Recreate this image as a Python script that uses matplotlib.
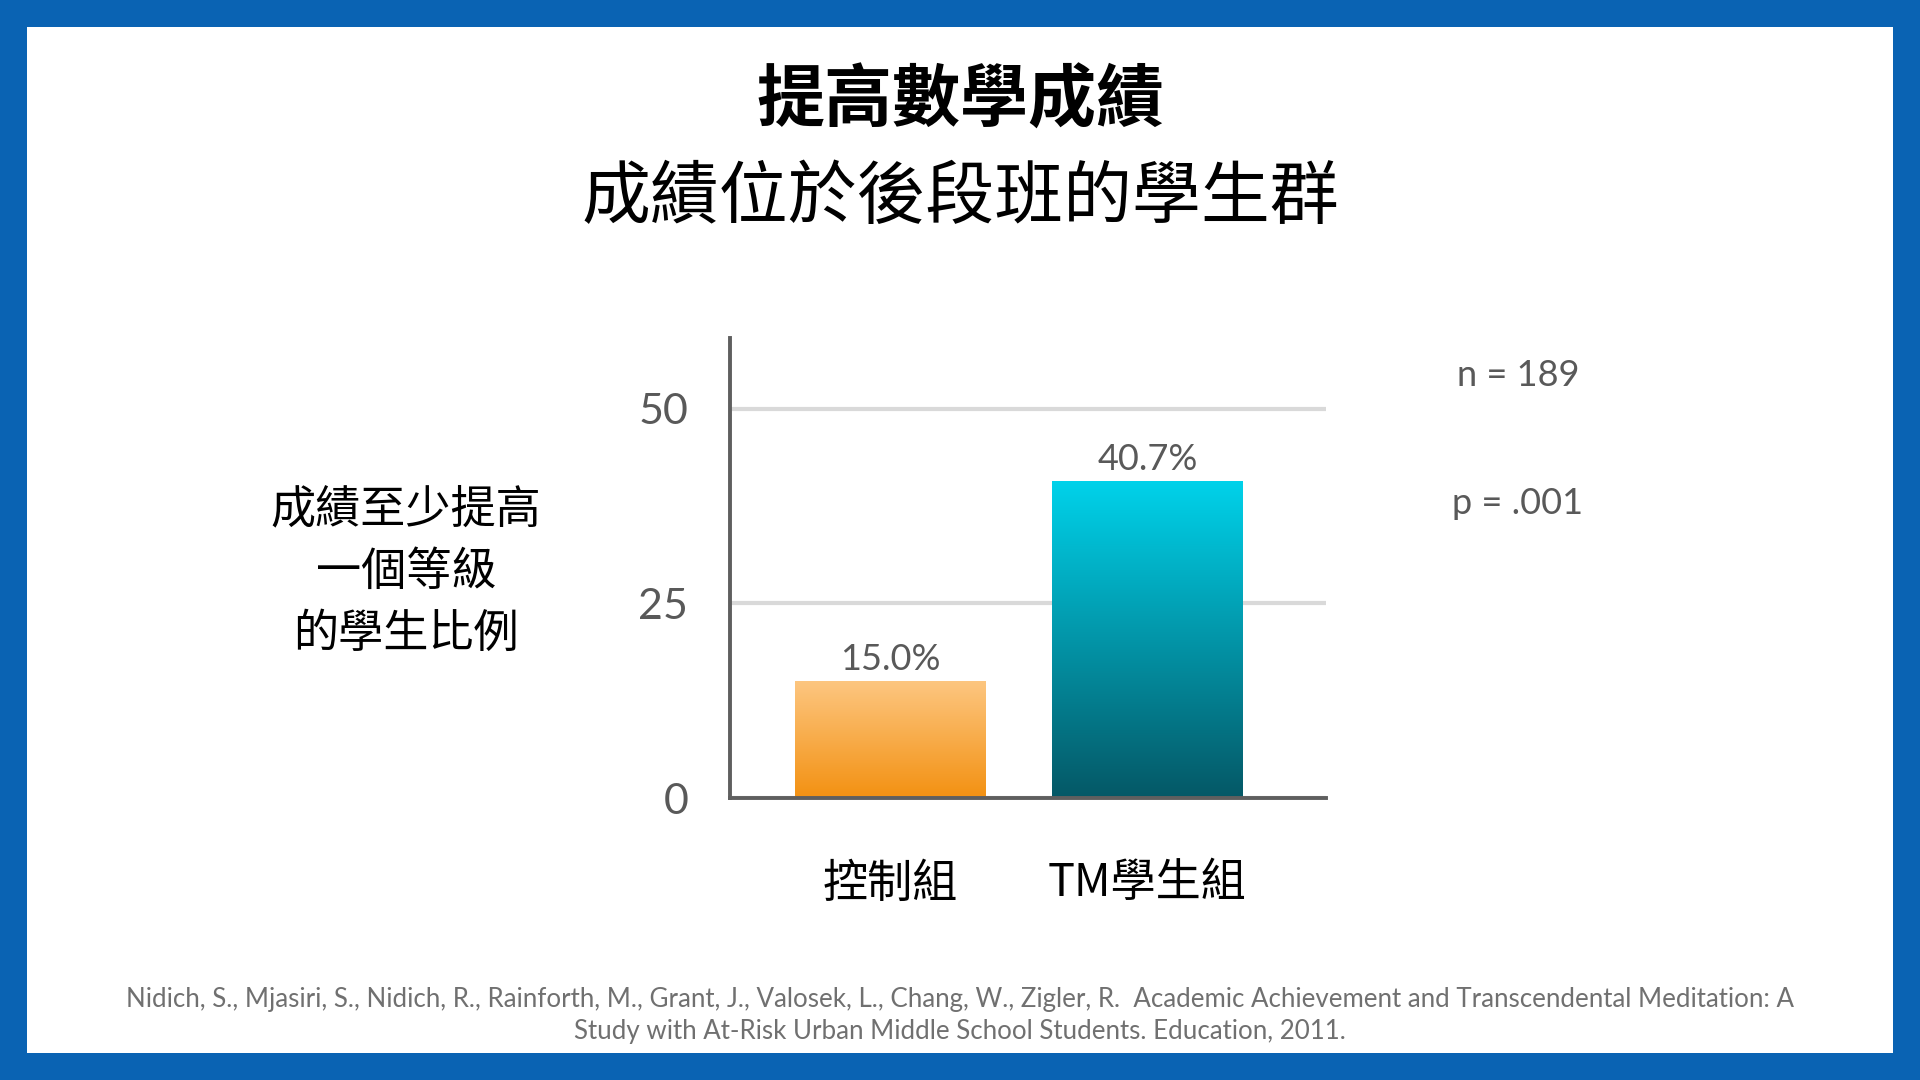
import numpy as np
import matplotlib
matplotlib.use("Agg")
import matplotlib.pyplot as plt
from matplotlib.patches import Rectangle
from matplotlib.colors import LinearSegmentedColormap

# Data
groups = ["控制組", "TM學生組"]
values = [15.0, 40.7]
value_labels = ["15.0%", "40.7%"]
y_ticks = [0, 25, 50]

title = "提高數學成績"
subtitle = "成績位於後段班的學生群"
y_label = "成績至少提高\n一個等級\n的學生比例"
n_text = "n = 189"
p_text = "p = .001"
citation = ("Nidich, S., Mjasiri, S., Nidich, R., Rainforth, M., Grant, J., Valosek, L., Chang, W., Zigler, R.  "
            "Academic Achievement and Transcendental Meditation: A\n"
            "Study with At-Risk Urban Middle School Students. Education, 2011.")

# gradient colours (top, bottom) per bar
bar_gradients = [("#fdc680", "#f39112"), ("#00d2ea", "#055866")]

cjk = ["Noto Sans CJK TC", "DejaVu Sans"]
latin = ["Lato", "DejaVu Sans"]
gray = "#595959"

plt.rcParams['font.family'] = cjk

fig = plt.figure(figsize=(19.2, 10.8), dpi=100)
fig.patch.set_facecolor("#0a63b3")

# white slide panel inside the blue frame
fig.patches.append(Rectangle((27 / 1920, 1 - 1053 / 1080), (1893 - 27) / 1920, (1053 - 27) / 1080,
                             transform=fig.transFigure, facecolor="white", edgecolor="none", zorder=-10))

fig.text(0.5, 1 - 102 / 1080, title, ha="center", va="center", fontsize=49, fontweight="bold",
         family=cjk, color="black")
fig.text(0.5, 1 - 199 / 1080, subtitle, ha="center", va="center", fontsize=49.6,
         family=cjk, color="black")

ax = fig.add_axes([730 / 1920, 1 - 798 / 1080, (1326 - 730) / 1920, (798 - 338) / 1080])
ax.set_facecolor("none")

x = np.arange(len(groups))
bars = ax.bar(x, values, width=0.743, facecolor="none", edgecolor="none", zorder=3)

# gradient fill clipped to each bar
for bar, (top, bottom) in zip(bars, bar_gradients):
    cmap = LinearSegmentedColormap.from_list("g", [bottom, top])
    grad = np.linspace(0, 1, 256).reshape(-1, 1)
    x0, y0 = bar.get_x(), bar.get_y()
    w, h = bar.get_width(), bar.get_height()
    im = ax.imshow(grad, cmap=cmap, origin="lower", aspect="auto",
                   extent=[x0, x0 + w, y0, y0 + h], zorder=3)
    im.set_clip_path(bar)

for xi, v, lab in zip(x, values, value_labels):
    ax.annotate(lab, (xi, v), xytext=(0, 4), textcoords="offset points",
                ha="center", va="bottom", fontsize=26, color=gray, family=latin)

ax.set_xlim(-0.625, 1.695)
ax.set_ylim(0, 59.1)
ax.set_yticks(y_ticks)
ax.set_yticklabels([str(t) for t in y_ticks], fontsize=31, color=gray, family=latin)
ax.set_xticks(x)
ax.set_xticklabels(groups, fontsize=32.5, color="black", family=cjk)
ax.tick_params(axis="y", length=0, pad=30)
ax.tick_params(axis="x", length=0, pad=45)

ax.yaxis.grid(True, color="#d9d9d9", linewidth=3)
ax.set_axisbelow(True)
for side in ["top", "right"]:
    ax.spines[side].set_visible(False)
for side in ["left", "bottom"]:
    ax.spines[side].set_color("#5f5f5f")
    ax.spines[side].set_linewidth(2.8)
    ax.spines[side].set_zorder(5)

fig.text(406 / 1920, 1 - 572 / 1080, y_label, ha="center", va="center", fontsize=32.5,
         family=cjk, color="black", linespacing=1.45)

fig.text(1518 / 1920, 1 - 376 / 1080, n_text, ha="center", va="center", fontsize=26,
         family=latin, color=gray)
fig.text(1518 / 1920, 1 - 504 / 1080, p_text, ha="center", va="center", fontsize=26,
         family=latin, color=gray)

fig.text(0.5, 1 - 1015 / 1080, citation, ha="center", va="center", fontsize=18.6,
         family=latin, color="#707070", linespacing=1.35)

fig.savefig("out.png", dpi=100, facecolor=fig.get_facecolor())
